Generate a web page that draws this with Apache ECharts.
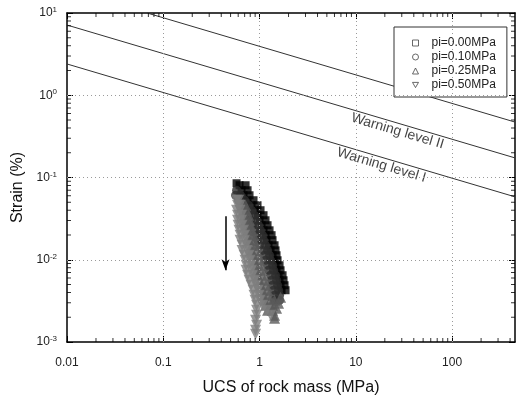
<!DOCTYPE html>
<html>
<head>
<meta charset="utf-8">
<script src="https://cdn.jsdelivr.net/npm/echarts@6/dist/echarts.min.js"></script>
<style>
html, body { margin: 0; padding: 0; background: #fff; }
#chart { width: 518px; height: 396px; }
</style>
</head>
<body>
<div id="chart"></div>
<script>
var FONT = '"Liberation Sans", Arial, sans-serif';

// legend names
var seriesNames = ['pi=0.00MPa', 'pi=0.10MPa', 'pi=0.25MPa', 'pi=0.50MPa'];

// [UCS (MPa), strain (%)]
var pi000 = [
  [0.577, 0.0851],
  [0.620, 0.0805], [0.650, 0.0700], [0.682, 0.0608], [0.751, 0.0529], [0.826, 0.0460], [0.887, 0.0400],
  [0.953, 0.0348], [1.000, 0.0302], [1.049, 0.0263], [1.100, 0.0228], [1.154, 0.0199], [1.182, 0.0173],
  [1.240, 0.0150], [1.301, 0.0130], [1.365, 0.01134], [1.398, 0.00986], [1.467, 0.00857], [1.502, 0.00745],
  [1.576, 0.00648], [1.614, 0.00563], [1.653, 0.00490], [1.693, 0.00426],
  [0.716, 0.0805], [0.751, 0.0700], [0.787, 0.0608], [0.866, 0.0529], [0.953, 0.0460], [1.024, 0.0400],
  [1.100, 0.0348], [1.154, 0.0302], [1.211, 0.0263], [1.270, 0.0228], [1.333, 0.0199], [1.365, 0.0173],
  [1.432, 0.0150], [1.467, 0.0130], [1.502, 0.01134], [1.539, 0.00986], [1.614, 0.00857], [1.653, 0.00745],
  [1.734, 0.00648], [1.776, 0.00563], [1.819, 0.00490], [1.863, 0.00426]
];
var pi010 = [
  [0.577, 0.0700], [0.563, 0.0608],
  [0.635, 0.0608], [0.699, 0.0529], [0.769, 0.0460], [0.826, 0.0400], [0.887, 0.0348], [0.931, 0.0302],
  [0.976, 0.0263], [1.024, 0.0228], [1.075, 0.0199], [1.100, 0.0173], [1.154, 0.0150], [1.211, 0.0130],
  [1.270, 0.01134], [1.301, 0.00986], [1.365, 0.00857], [1.398, 0.00745], [1.467, 0.00648], [1.502, 0.00563],
  [1.539, 0.00490], [1.576, 0.00426], [1.614, 0.00370], [1.614, 0.00322],
  [0.605, 0.0529], [0.666, 0.0460], [0.716, 0.0400], [0.769, 0.0348], [0.806, 0.0302], [0.846, 0.0263],
  [0.887, 0.0228], [0.931, 0.0199], [0.953, 0.0173], [1.000, 0.0150], [1.075, 0.0130], [1.127, 0.01134],
  [1.154, 0.00986], [1.211, 0.00857], [1.240, 0.00745], [1.301, 0.00648], [1.333, 0.00563], [1.365, 0.00490],
  [1.398, 0.00426], [1.432, 0.00370], [1.432, 0.00322]
];
var pi025 = [
  [0.716, 0.0460], [0.733, 0.0400], [0.769, 0.0348], [0.787, 0.0302], [0.806, 0.0263], [0.836, 0.0228],
  [0.866, 0.0199], [0.876, 0.0173], [0.920, 0.0150], [0.931, 0.0130], [0.976, 0.01134], [1.000, 0.00986],
  [1.036, 0.00857], [1.049, 0.00745], [1.087, 0.00648], [1.127, 0.00563], [1.168, 0.00490], [1.211, 0.00426],
  [1.240, 0.00370], [1.270, 0.00322], [1.301, 0.00280], [1.365, 0.00243], [1.432, 0.00211],
  [0.666, 0.0460], [0.682, 0.0400], [0.699, 0.0348], [0.716, 0.0302], [0.733, 0.0263], [0.751, 0.0228],
  [0.778, 0.0199], [0.787, 0.0173], [0.826, 0.0150], [0.826, 0.0130], [0.866, 0.01134], [0.887, 0.00986],
  [0.920, 0.00857], [0.931, 0.00745], [0.953, 0.00648], [1.000, 0.00563], [1.036, 0.00490], [1.075, 0.00426],
  [1.100, 0.00370], [1.127, 0.00322], [1.154, 0.00280], [1.211, 0.00243],
  [1.432, 0.00322], [1.576, 0.00296], [1.653, 0.00350], [1.502, 0.00257], [1.365, 0.00280], [1.432, 0.00194]
];
var pi050 = [
  [0.605, 0.0529], [0.627, 0.0460], [0.627, 0.0400], [0.650, 0.0348], [0.650, 0.0302], [0.658, 0.0263],
  [0.682, 0.0228], [0.699, 0.0199], [0.699, 0.0173], [0.733, 0.0150], [0.742, 0.0130], [0.778, 0.01134],
  [0.797, 0.00986], [0.816, 0.00857], [0.826, 0.00745], [0.846, 0.00648], [0.887, 0.00563], [0.920, 0.00490],
  [0.965, 0.00426], [0.988, 0.00370], [1.012, 0.00322],
  [0.577, 0.0529], [0.590, 0.0460], [0.577, 0.0400], [0.590, 0.0348], [0.590, 0.0302], [0.598, 0.0263],
  [0.612, 0.0228], [0.627, 0.0199], [0.627, 0.0173], [0.658, 0.0150], [0.658, 0.0130], [0.690, 0.01134],
  [0.707, 0.00986], [0.724, 0.00857], [0.724, 0.00745], [0.751, 0.00648], [0.778, 0.00563], [0.816, 0.00490],
  [0.856, 0.00426], [0.876, 0.00370], [0.898, 0.00322],
  [0.931, 0.00280], [0.931, 0.00243], [0.931, 0.00211], [0.909, 0.00184], [0.931, 0.00160], [0.909, 0.00139],
  [0.909, 0.00124],
  [1.075, 0.00280], [1.182, 0.00243], [1.301, 0.00211]
];

// warning level lines (end points) and their labels
var warnLevel3 = [[0.068, 10], [450, 0.472]];
var warnLevel2 = [[0.01, 7.14], [450, 0.173]];
var warnLevel1 = [[0.01, 2.40], [450, 0.0582]];
var warnLabels = [
  { name: 'Warning level II', value: [27.1, 0.365] },
  { name: 'Warning level I', value: [18.5, 0.141] }
];

// arrow (increasing pi)
var arrowFrom = [0.443, 0.0338];
var arrowTo = [0.443, 0.00745];

// axis ranges and ticks
var xMin = 0.01, xMax = 450;
var yMin = 0.001, yMax = 10;
var xMajor = [0.01, 0.1, 1, 10, 100];
var yMajor = [0.001, 0.01, 0.1, 1, 10];
var minorSteps = [2, 3, 4, 5, 6, 7, 8, 9];

var colors = ['#000000', '#2e2e2e', '#5a5a5a', '#7e7e7e'];
var symbols = ['rect', 'circle', 'triangle', 'triangle'];
var symbolRot = [0, 0, 0, 180];
var symbolSizes = [8, 9, 11, 11];
var legendIcons = ['rect', 'circle', 'triangle', 'path://M0,0L10,0L5,8.66Z'];

// minor tick positions (log axes)
var xMinor = [], yMinor = [];
xMajor.forEach(function (d) {
  minorSteps.forEach(function (m) {
    if (d * m < xMax) xMinor.push(d * m);
  });
});
yMajor.forEach(function (d) {
  minorSteps.forEach(function (m) {
    if (d * m < yMax) yMinor.push(d * m);
  });
});

function expOf(v) {
  return Math.round(Math.log10(v));
}

var chart = echarts.init(document.getElementById('chart'), null, { renderer: 'canvas' });

var pointSeries = [pi000, pi010, pi025, pi050].map(function (d, i) {
  return {
    name: seriesNames[i],
    type: 'scatter',
    data: d,
    symbol: symbols[i],
    symbolRotate: symbolRot[i],
    symbolSize: symbolSizes[i],
    itemStyle: { color: colors[i] },
    silent: true,
    z: 3
  };
});

function warnLine(data) {
  return {
    type: 'line',
    data: data,
    symbol: 'none',
    lineStyle: { color: '#333', width: 1 },
    silent: true
  };
}

// minor tick marks drawn as thin rects sitting on the frame
function tickSeries(data, size, offset) {
  return {
    type: 'scatter',
    data: data,
    symbol: 'rect',
    symbolSize: size,
    symbolOffset: offset,
    itemStyle: { color: '#000' },
    silent: true,
    clip: false,
    z: 5
  };
}

var lineLevel3 = warnLine(warnLevel3);
lineLevel3.markLine = {
  silent: true,
  symbol: ['none', 'arrow'],
  symbolSize: [6, 11],
  label: { show: false },
  lineStyle: { color: '#000', width: 1.5, type: 'solid' },
  data: [[{ coord: arrowFrom }, { coord: arrowTo }]]
};

// dotted grid at the inner decades
var lineLevel2 = warnLine(warnLevel2);
lineLevel2.markLine = {
  silent: true,
  symbol: 'none',
  label: { show: false },
  lineStyle: { color: '#9a9a9a', width: 1, type: [1, 3] },
  data: xMajor.slice(1).map(function (v) { return { xAxis: v }; })
    .concat(yMajor.slice(1, -1).map(function (v) { return { yAxis: v }; }))
};

function frameAxis(pos, min, max, major) {
  return {
    type: 'log',
    min: min,
    max: max,
    position: pos,
    axisLine: { show: true, lineStyle: { color: '#000', width: 1.5 } },
    axisTick: { show: true, inside: true, length: 6, customValues: major, lineStyle: { color: '#000', width: 1 } },
    axisLabel: { show: false, customValues: major },
    splitLine: { show: false },
    minorSplitLine: { show: false }
  };
}

var xBottom = frameAxis('bottom', xMin, xMax, xMajor);
xBottom.name = 'UCS of rock mass (MPa)';
xBottom.nameLocation = 'middle';
xBottom.nameGap = 38;
xBottom.nameTextStyle = { fontSize: 16, color: '#111', fontFamily: FONT };
xBottom.axisLabel = {
  show: true,
  customValues: xMajor,
  margin: 15,
  fontSize: 12,
  color: '#222',
  fontFamily: FONT,
  formatter: function (v) {
    var e = expOf(v);
    return e >= 0 ? String(Math.pow(10, e)) : Math.pow(10, e).toFixed(-e);
  }
};

var yLeft = frameAxis('left', yMin, yMax, yMajor);
yLeft.name = 'Strain (%)';
yLeft.nameLocation = 'middle';
yLeft.nameGap = 39;
yLeft.nameTextStyle = { fontSize: 16, color: '#111', fontFamily: FONT, padding: [0, 20, 0, 0] };
yLeft.axisLabel = {
  show: true,
  customValues: yMajor,
  margin: 10,
  color: '#222',
  fontFamily: FONT,
  formatter: function (v) {
    return '{b|10}{s|' + expOf(v) + '}';
  },
  rich: {
    b: { fontSize: 12, lineHeight: 14, color: '#222', fontFamily: FONT },
    s: { fontSize: 8, lineHeight: 14, verticalAlign: 'top', color: '#222', fontFamily: FONT }
  }
};

var option = {
  animation: false,
  backgroundColor: '#fff',
  textStyle: { fontFamily: FONT },
  grid: { left: 67, right: 3, top: 13, bottom: 54, outerBoundsMode: 'none', containLabel: false },
  legend: {
    orient: 'vertical',
    left: 394,
    top: 27,
    padding: [9, 11, 5, 18],
    itemWidth: 6,
    itemHeight: 6,
    itemGap: 0,
    selectedMode: false,
    borderColor: '#333',
    borderWidth: 1,
    backgroundColor: '#fff',
    textStyle: { fontSize: 12, lineHeight: 14, color: '#222', padding: [0, 0, 0, 8], fontFamily: FONT },
    data: seriesNames.map(function (n, i) {
      return {
        name: n,
        icon: legendIcons[i],
        itemStyle: { color: '#fff', borderColor: '#444', borderWidth: 1 }
      };
    })
  },
  xAxis: [xBottom, frameAxis('top', xMin, xMax, xMajor)],
  yAxis: [yLeft, frameAxis('right', yMin, yMax, yMajor)],
  series: [
    tickSeries(xMinor.map(function (v) { return [v, yMin]; }), [1, 4], [0, -2]),
    tickSeries(xMinor.map(function (v) { return [v, yMax]; }), [1, 4], [0, 2]),
    tickSeries(yMinor.map(function (v) { return [xMin, v]; }), [4, 1], [2, 0]),
    tickSeries(yMinor.map(function (v) { return [xMax, v]; }), [4, 1], [-2, 0]),
    lineLevel3,
    lineLevel2,
    warnLine(warnLevel1),
    {
      type: 'scatter',
      data: warnLabels,
      symbolSize: 0,
      silent: true,
      label: {
        show: true,
        position: 'inside',
        rotate: -16.5,
        fontSize: 14,
        color: '#111',
        fontFamily: FONT,
        formatter: function (p) { return p.name; }
      }
    }
  ].concat(pointSeries)
};

chart.setOption(option);
window.addEventListener('resize', function () {
  chart.resize();
});
</script>
</body>
</html>
